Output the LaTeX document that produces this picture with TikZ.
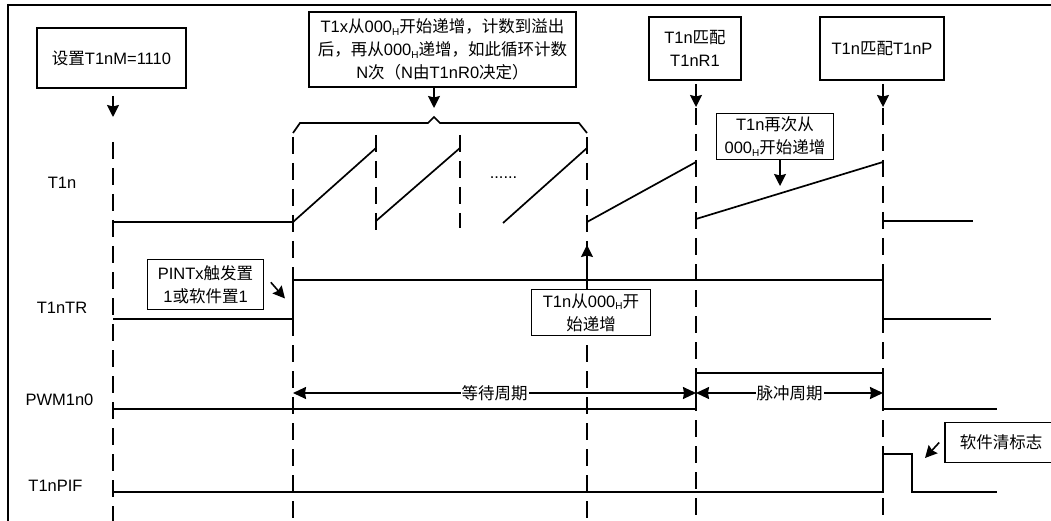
\documentclass[tikz,border=0pt]{standalone}
\usepackage{fontspec}
\setmainfont{Liberation Sans}
\newfontfamily\cjk{Noto Sans CJK SC}
\usetikzlibrary{arrows.meta}
\newcommand\Hs{\raisebox{-2.5pt}{\fontsize{10}{10}\selectfont H}}
\begin{document}
\begin{tikzpicture}[x=1pt,y=-1pt,
  wave/.style={line width=1.7pt},
  dashv/.style={line width=2.6pt, dash pattern=on 17pt off 9pt},
  box/.style={draw, line width=1.6pt, fill=white, align=center, inner sep=0pt, font=\fontsize{16.5}{23}\selectfont},
  lbl/.style={font=\fontsize{16.5}{20}\selectfont, inner sep=0pt},
  arr/.style={line width=1.6pt, -{Stealth[length=12pt,width=12pt,inset=1.5pt]}},
  dim/.style={line width=1.6pt, {Stealth[length=13pt,width=12pt,inset=1pt]}-{Stealth[length=13pt,width=12pt,inset=1pt]}}
]
\useasboundingbox (0,0) rectangle (1051,521);
\clip (0,0) rectangle (1051,521);

% frame
\draw[line width=2.6pt] (8,5) -- (1051,5);
\draw[line width=2pt] (8,4) -- (8,521);

% dashed markers
\draw[dashv] (113,142) -- (113,521);
\draw[dashv] (293,137) -- (293,521);
\draw[dashv] (376,135) -- (376,230);
\draw[dashv] (460,135) -- (460,228);
\draw[dashv] (587,137) -- (587,521);
\draw[dashv] (696,108) -- (696,521);
\draw[dashv] (883,108) -- (883,521);

% T1n
\draw[wave] (113,222) -- (293,222) -- (376,148);
\draw[wave] (376,221) -- (460,148);
\draw[wave] (503,223) -- (587,148);
\draw[wave] (587,222) -- (696,162);
\draw[wave] (696,219) -- (883,162);
\draw[wave] (883,221) -- (973,221);
\node[lbl, anchor=base] (dots) at (503.5,178.5) {......};

% T1nTR
\draw[wave] (113,319) -- (293,319) -- (293,280) -- (883,280) -- (883,319) -- (991,319);
% PWM1n0
\draw[wave] (113,409) -- (696,409) -- (696,373) -- (883,373) -- (883,409) -- (997,409);
% T1nPIF
\draw[wave] (113,492) -- (883,492) -- (883,454) -- (912,454) -- (912,492) -- (997,492);

% brace
\draw[wave] (293,133) -- (300,123) -- (428,123) -- (434,117) -- (440,123) -- (579,123) -- (587,133);

% dimension arrows
\coordinate (d1) at (293,393);
\coordinate (d2) at (696,393);
\coordinate (d3) at (883,393);
\draw[dim] (d1) -- node[lbl, fill=white, inner xsep=1pt, inner ysep=1pt] (w1) {\cjk 等待周期} (d2);
\draw[dim] (d2) -- node[lbl, fill=white, inner xsep=1pt, inner ysep=1pt] (w2) {\cjk 脉冲周期} (d3);

% row labels
\node[lbl] (l1) at (62,183) {T1n};
\node[lbl] (l2) at (62,308) {T1nTR};
\node[lbl] (l3) at (59.5,400) {PWM1n0};
\node[lbl] (l4) at (55.5,486) {T1nPIF};

% boxes
\node[box, minimum width=149pt, minimum height=60pt] (b1) at (111.5,58) {{\cjk 设置}T1nM=1110};
\node[box, minimum width=267pt, minimum height=75pt] (b2) at (442.5,49.5) {T1x{\cjk 从}000\Hs{\cjk 开始递增，计数到溢出}\\{\cjk 后，再从}000\Hs{\cjk 递增，如此循环计数}\\N{\cjk 次（}N{\cjk 由}T1nR0{\cjk 决定）}};
\node[box, minimum width=92pt, minimum height=63pt] (b3) at (695,48.5) {T1n{\cjk 匹配}\\T1nR1};
\node[box, minimum width=124pt, minimum height=63pt] (b4) at (882,48.5) {T1n{\cjk 匹配}T1nP};
\node[box, minimum width=117pt, minimum height=46pt] (b5) at (775,136.5) {T1n{\cjk 再次从}\\000\Hs{\cjk 开始递增}};
\node[box, minimum width=116pt, minimum height=50pt] (b6) at (205.5,284.5) {PINTx{\cjk 触发置}\\1{\cjk 或软件置}1};
\node[box, minimum width=119pt, minimum height=46pt] (b7) at (591,312.5) {T1n{\cjk 从}000\Hs{\cjk 开}\\{\cjk 始递增}};
\node[box, minimum width=112pt, minimum height=40pt] (b8) at (1001,442.5) {\cjk 软件清标志};

% arrows
\coordinate (a1) at (113,117);
\coordinate (a2) at (434,108);
\coordinate (a3) at (696,107);
\coordinate (a4) at (883,107);
\coordinate (a5) at (780,186);
\coordinate (a6) at (285,298.5);
\coordinate (a7) at (587,245);
\coordinate (a8) at (925,458);
\draw[arr, shorten <=7pt] (b1.south -| a1) -- (a1);
\draw[arr] (b2.south -| a2) -- (a2);
\draw[arr, shorten <=3pt] (b3.south -| a3) -- (a3);
\draw[arr, shorten <=3pt] (b4.south -| a4) -- (a4);
\draw[arr] (b5.south -| a5) -- (a5);
\draw[arr] (b6.east) ++(6.5,-2.2) -- (a6);
\draw[arr] (b7.north -| a7) -- (a7);
\draw[arr] (b8.west) ++(-5,0) -- (a8);
\end{tikzpicture}
\end{document}
